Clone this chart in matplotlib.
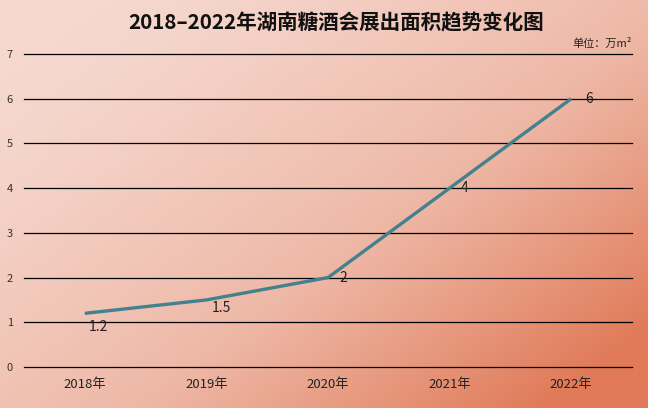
import numpy as np
import matplotlib.pyplot as plt
from matplotlib.colors import LinearSegmentedColormap

plt.rcParams['font.family'] = ['Noto Sans CJK SC', 'DejaVu Sans']

years = ['2018年', '2019年', '2020年', '2021年', '2022年']
area = [1.2, 1.5, 2, 4, 6]
area_labels = ['1.2', '1.5', '2', '4', '6']
label_offsets = [(10, -10), (11, -6), (11, 0), (11, 0), (13, 0)]

fig = plt.figure(figsize=(6.48, 4.08), dpi=100)

# gradient background
bg = fig.add_axes([0, 0, 1, 1], zorder=-10)
xx, yy = np.meshgrid(np.linspace(0, 1, 300), np.linspace(0, 1, 200))
t = np.clip(0.65 * xx + 0.55 * yy - 0.1, 0, 1) ** 1.3
cmap = LinearSegmentedColormap.from_list('bg', ['#f6d8cf', '#eeb8a6', '#e07a58'])
bg.imshow(t, cmap=cmap, aspect='auto', extent=[0, 1, 0, 1], origin='upper', vmin=0, vmax=1)
bg.axis('off')

ax = fig.add_axes([24 / 648, 1 - 367 / 408, 608 / 648, 313 / 408])
ax.patch.set_alpha(0)
x = np.arange(len(years))
ax.plot(x, area, color='#43818f', lw=2.4, solid_capstyle='butt', solid_joinstyle='round', zorder=3)
for xi, v, lab, off in zip(x, area, area_labels, label_offsets):
    ax.annotate(lab, (xi, v), xytext=off, textcoords='offset points',
                ha='center', va='center', fontsize=10, color='#222222', zorder=4)

ax.set_xlim(-0.5, len(years) - 0.5)
ax.set_ylim(0, 7)
ax.set_yticks(range(0, 8))
ax.set_xticks(x)
ax.set_xticklabels(years, fontsize=9.5, color='#222222')
ax.tick_params(axis='y', length=0, labelsize=8, pad=8, labelcolor='#333333')
ax.tick_params(axis='x', length=0, pad=8)
ax.grid(axis='y', color='black', lw=0.9)
for gl in ax.get_ygridlines():
    gl.set_clip_on(False)
ax.set_axisbelow(True)
for s in ax.spines.values():
    s.set_visible(False)

fig.text(336 / 648, 1 - 23 / 408, '2018–2022年湖南糖酒会展出面积趋势变化图', ha='center', va='center',
         fontsize=14.8, fontweight='bold', color='#111111')
fig.text(632 / 648, 1 - 43 / 408, '单位：万m²', ha='right', va='center', fontsize=8, color='#222222')

fig.savefig('out.png', dpi=100)
